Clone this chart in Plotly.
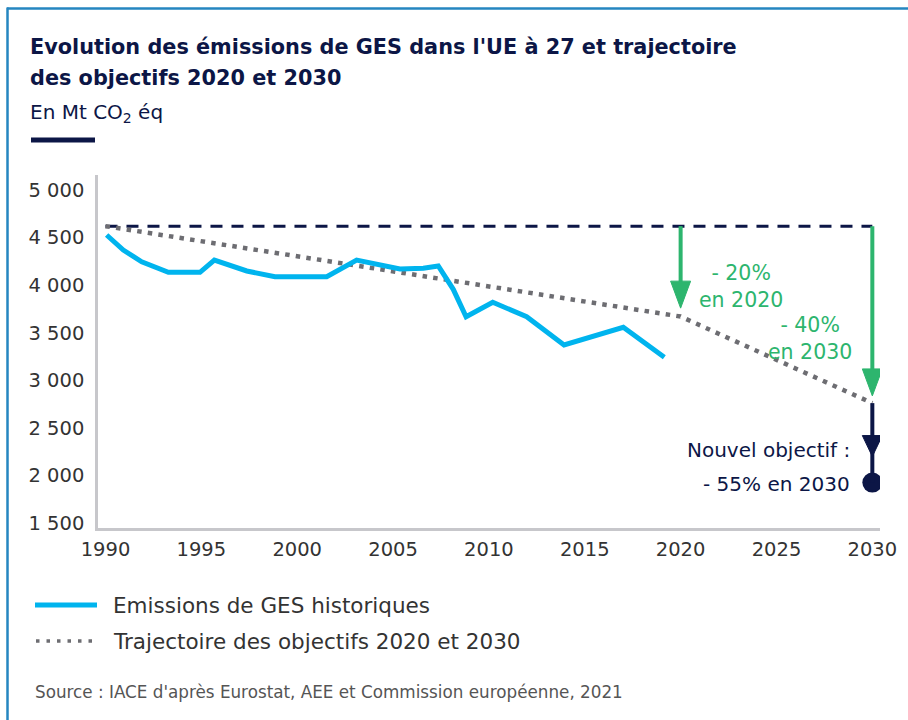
import plotly.graph_objects as go

# ---------------- DATA ----------------
annees_hist = [1990.06, 1990.93, 1991.89, 1993.28, 1994.93, 1995.68, 1997.37, 1998.84,
               2001.54, 2003.10, 2005.36, 2006.58, 2007.36, 2008.14, 2008.81, 2010.20,
               2011.97, 2013.92, 2017.01, 2019.15]
emissions_hist = [4527, 4369, 4246, 4135, 4135, 4264, 4149, 4089,
                  4089, 4264, 4170, 4177, 4201, 3956, 3668, 3820,
                  3668, 3371, 3557, 3242]

annees_traj = [1990, 2020, 2030]
trajectoire = [4620, 3670, 2760]

annees_ref = [1990, 2030]
reference_1990 = [4620, 4620]

nouvel_objectif_annee = [2030]
nouvel_objectif_valeur = [1925]

x_ticks = [1990, 1995, 2000, 2005, 2010, 2015, 2020, 2025, 2030]
y_ticks = [1500, 2000, 2500, 3000, 3500, 4000, 4500, 5000]
y_tick_labels = ["1 500", "2 000", "2 500", "3 000", "3 500", "4 000", "4 500", "5 000"]

# ---------------- STYLE ----------------
W, H = 908, 720
ML, MR, MT, MB = 98, 28, 175, 192
PW, PH = W - ML - MR, H - MT - MB

NAVY = "#0c1646"
BLUE = "#00b4ee"
GREEN = "#2db56e"
GREY_DOT = "#6d6d72"
AXIS = "#c7c7cb"
FRAME = "#2586c0"
TXT = "#333333"
FONT = "DejaVu Sans"

X_RANGE = [1989.61, 2030.40]
Y_RANGE = [1447.4, 5157.7]
PX_PER_YEAR = PW / (X_RANGE[1] - X_RANGE[0])
PX_PER_MT = PH / (Y_RANGE[1] - Y_RANGE[0])


def px_x(px):
    return (px - ML) / PW


def px_y(py):
    return (H - MB - py) / PH


fig = go.Figure()

fig.add_trace(go.Scatter(x=annees_ref, y=reference_1990, mode="lines",
                         line=dict(color=NAVY, width=3, dash="12px,9px"),
                         showlegend=False, hoverinfo="skip"))
fig.add_trace(go.Scatter(x=annees_traj, y=trajectoire, mode="lines",
                         line=dict(color=GREY_DOT, width=4.5, dash="4.5px,6.2px"),
                         name="Trajectoire des objectifs 2020 et 2030", showlegend=False))
fig.add_trace(go.Scatter(x=annees_hist, y=emissions_hist, mode="lines",
                         line=dict(color=BLUE, width=5),
                         name="Emissions de GES historiques", showlegend=False))

shapes = []


def arrow(x, y_start, y_tip, color, head_w_px, head_h_px, line_end=None):
    hw = head_w_px / 2 / PX_PER_YEAR
    hh = head_h_px / PX_PER_MT
    end = line_end if line_end is not None else y_tip + hh * 0.5
    shapes.append(dict(type="line", xref="x", yref="y", x0=x, x1=x, y0=y_start, y1=end,
                       line=dict(color=color, width=4)))
    shapes.append(dict(type="path", xref="x", yref="y",
                       path=f"M {x - hw},{y_tip + hh} L {x + hw},{y_tip + hh} L {x},{y_tip} Z",
                       fillcolor=color, line=dict(color=color, width=1)))


gap = 6 / PX_PER_MT
arrow(annees_traj[1], reference_1990[0], trajectoire[1] + gap * 1.4, GREEN, 20, 27)
arrow(annees_traj[2], reference_1990[1], trajectoire[2] + gap * 1.2, GREEN, 20, 27)
arrow(nouvel_objectif_annee[0], trajectoire[2], nouvel_objectif_valeur[0] + 26 / PX_PER_MT,
      NAVY, 20, 21, line_end=nouvel_objectif_valeur[0])

fig.add_trace(go.Scatter(x=nouvel_objectif_annee, y=nouvel_objectif_valeur, mode="markers",
                         marker=dict(color=NAVY, size=20), showlegend=False, hoverinfo="skip"))

# frame
shapes.append(dict(type="line", xref="paper", yref="paper", x0=px_x(7), x1=px_x(910),
                   y0=px_y(8.5), y1=px_y(8.5), line=dict(color=FRAME, width=2.5)))
shapes.append(dict(type="line", xref="paper", yref="paper", x0=px_x(7.5), x1=px_x(7.5),
                   y0=px_y(7.5), y1=px_y(722), line=dict(color=FRAME, width=2.5)))
# subtitle bar
shapes.append(dict(type="line", xref="paper", yref="paper", x0=px_x(31), x1=px_x(95),
                   y0=px_y(140), y1=px_y(140), line=dict(color=NAVY, width=5)))
# legend samples
shapes.append(dict(type="line", xref="paper", yref="paper", x0=px_x(35), x1=px_x(97),
                   y0=px_y(605), y1=px_y(605), line=dict(color=BLUE, width=5)))
shapes.append(dict(type="line", xref="paper", yref="paper", x0=px_x(36), x1=px_x(98),
                   y0=px_y(641), y1=px_y(641), line=dict(color=GREY_DOT, width=3.5, dash="3.5px,7px")))

ann = []


def ptext(text, px, py, size, color, weight="normal", xanchor="left", yanchor="middle", align="left"):
    ann.append(dict(text=text, xref="paper", yref="paper", x=px_x(px), y=px_y(py),
                    xanchor=xanchor, yanchor=yanchor, align=align, showarrow=False,
                    font=dict(family=FONT, size=size, color=color, weight=weight)))


ptext("Evolution des émissions de GES dans l'UE à 27 et trajectoire", 28, 47, 20.8, NAVY, weight="bold")
ptext("des objectifs 2020 et 2030", 28, 78, 20.8, NAVY, weight="bold")
ptext("En Mt CO<sub>2</sub> éq", 28, 113, 20, NAVY)
ptext("Emissions de GES historiques", 111, 605, 21.5, TXT)
ptext("Trajectoire des objectifs 2020 et 2030", 111, 641, 21.5, TXT)
ptext("Source : IACE d'après Eurostat, AEE et Commission européenne, 2021", 33, 692, 16.8, "#555555")


def dtext(text, x, y, size, color, xanchor="center", align="center"):
    ann.append(dict(text=text, xref="x", yref="y", x=x, y=y, xanchor=xanchor, yanchor="middle",
                    align=align, showarrow=False, font=dict(family=FONT, size=size, color=color)))


dtext("- 20%<br>en 2020", 2023.15, 3990, 20.5, GREEN)
dtext("- 40%<br>en 2030", 2026.75, 3440, 20.5, GREEN)
dtext("Nouvel objectif :", 2028.95, 2267, 20, NAVY, xanchor="right", align="right")
dtext("- 55% en 2030", 2028.95, 1910, 20, NAVY, xanchor="right", align="right")

fig.update_layout(
    width=W, height=H,
    margin=dict(l=ML, r=MR, t=MT, b=MB, pad=0),
    paper_bgcolor="white", plot_bgcolor="white",
    shapes=shapes, annotations=ann,
    showlegend=False,
    font=dict(family=FONT, color=TXT),
    xaxis=dict(range=X_RANGE, tickvals=x_ticks, showgrid=False, zeroline=False,
               showline=True, linecolor=AXIS, linewidth=2.5, ticks="",
               tickfont=dict(family=FONT, size=19.5, color=TXT), ticklabelstandoff=2),
    yaxis=dict(range=Y_RANGE, tickvals=y_ticks, ticktext=y_tick_labels, showgrid=False,
               zeroline=False, showline=True, linecolor=AXIS, linewidth=2.5, ticks="",
               tickfont=dict(family=FONT, size=19.5, color=TXT), ticklabelstandoff=7),
)

fig.write_html("out.html", config={"displayModeBar": False},
               post_script="document.body.style.margin='0px';document.body.style.overflow='hidden';")
